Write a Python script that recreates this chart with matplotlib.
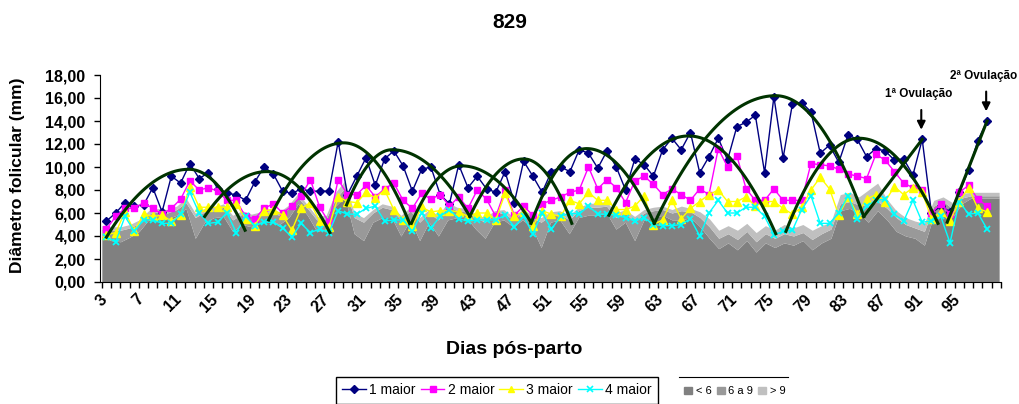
import numpy as np
import matplotlib
matplotlib.use('Agg')
import matplotlib.pyplot as plt
from matplotlib.lines import Line2D
from matplotlib.patches import Patch

plt.rcParams['font.family'] = ['Liberation Sans', 'DejaVu Sans']

# categories: days post-partum (last one has area data only)
days = list(range(3, 100))
tick_days = list(range(3, 96, 4))

# follicle diameters (mm), one value per day from day 3 to day 98
maior1 = [5.3, 6.0, 6.9, 6.6, 6.7, 8.2, 6.1, 9.2, 8.6, 10.3,
          9.0, 9.5, 8.1, 7.7, 7.6, 7.1, 8.7, 10.0, 9.4, 7.9,
          7.7, 8.1, 7.9, 7.9, 7.9, 12.2, 7.6, 9.2, 10.8, 8.4,
          10.7, 11.4, 10.1, 7.9, 9.8, 10.0, 7.6, 6.8, 10.2, 8.2,
          9.2, 8.1, 7.8, 9.6, 6.9, 10.5, 9.2, 7.8, 9.6, 10.0,
          9.6, 11.5, 11.2, 9.9, 11.4, 10.0, 8.0, 10.7, 10.2, 9.2,
          11.5, 12.5, 11.5, 13.0, 9.5, 10.9, 12.5, 10.6, 13.5, 13.9,
          14.5, 9.5, 16.1, 10.8, 15.5, 15.6, 14.8, 11.2, 11.9, 10.4,
          12.8, 12.4, 10.9, 11.6, 11.4, 10.6, 10.7, 9.3, 12.4, 6.0,
          6.6, 6.1, 7.8, 9.7, 12.3, 14.0]
maior2 = [4.6, 5.7, 6.4, 6.4, 6.9, 6.4, 5.9, 6.4, 7.2, 8.8,
          8.0, 8.2, 7.9, 7.1, 7.1, 5.7, 5.5, 6.4, 6.8, 6.0,
          6.6, 7.5, 8.9, 6.5, 5.2, 8.9, 7.6, 7.6, 8.4, 7.4,
          8.1, 8.6, 7.1, 6.4, 7.7, 7.2, 7.6, 6.6, 7.4, 6.4,
          8.0, 7.2, 5.7, 8.0, 5.8, 6.6, 5.8, 6.8, 7.1, 7.4,
          7.8, 8.0, 10.0, 8.1, 8.9, 8.2, 6.9, 8.8, 9.2, 8.5,
          7.6, 8.1, 7.6, 7.1, 8.1, 7.6, 11.6, 10.0, 11.0, 8.1,
          7.1, 7.1, 8.1, 7.1, 7.1, 7.1, 10.3, 10.2, 10.1, 9.8,
          9.4, 9.2, 9.0, 11.1, 10.6, 9.6, 8.6, 8.2, 8.0, 6.0,
          6.8, 5.9, 7.8, 8.4, 7.2, 6.6]
maior3 = [4.1, 4.3, 6.1, 4.4, 5.9, 5.7, 5.8, 5.3, 5.8, 8.3,
          6.5, 6.5, 6.5, 6.5, 6.8, 5.5, 4.9, 6.2, 6.3, 5.8,
          4.5, 6.4, 6.9, 5.3, 4.8, 7.4, 7.0, 6.9, 7.8, 7.3,
          8.0, 6.3, 5.4, 4.9, 6.5, 6.1, 6.2, 6.2, 6.1, 5.7,
          6.0, 6.0, 5.4, 7.7, 5.7, 6.1, 4.9, 6.2, 5.9, 5.7,
          7.1, 6.8, 7.8, 7.1, 7.1, 6.3, 6.3, 6.6, 7.5, 5.0,
          5.4, 7.1, 5.5, 6.4, 7.0, 7.6, 8.0, 7.0, 7.0, 7.4,
          6.6, 7.0, 7.0, 6.4, 5.9, 6.5, 8.0, 9.1, 8.1, 5.8,
          7.4, 5.9, 7.2, 7.6, 7.0, 8.3, 7.6, 8.2, 7.8, 5.5,
          6.1, 5.3, 7.0, 8.2, 6.4, 6.1]
maior4 = [3.9, 3.5, 5.7, 4.4, 5.4, 5.4, 5.1, 5.1, 5.9, 7.8,
          6.0, 5.1, 5.2, 6.0, 4.3, 5.7, 4.9, 5.2, 5.2, 4.7,
          3.9, 5.1, 4.3, 4.6, 4.3, 6.2, 5.9, 5.9, 6.4, 6.6,
          5.3, 5.4, 5.4, 4.4, 6.0, 4.7, 5.7, 6.3, 5.5, 5.3,
          5.4, 5.4, 5.4, 5.8, 4.8, 5.7, 4.2, 6.0, 4.6, 5.7,
          6.0, 5.9, 6.6, 5.9, 5.9, 5.8, 5.6, 5.3, 5.6, 5.0,
          4.9, 4.9, 5.0, 5.5, 4.0, 6.0, 7.1, 6.0, 6.0, 6.5,
          6.5, 5.7, 4.1, 4.4, 4.5, 6.3, 7.5, 5.1, 5.1, 6.0,
          7.5, 5.5, 6.6, 7.1, 7.2, 5.9, 5.3, 7.1, 5.2, 5.3,
          5.7, 3.4, 7.0, 5.9, 6.0, 4.6]

# background areas (stacked): < 6, 6 a 9, > 9
area_lt6 = [4.0, 3.6, 3.5, 3.9, 4.4, 5.4, 5.5, 5.5, 5.8, 6.4,
            3.8, 5.2, 5.6, 5.7, 4.4, 5.0, 4.8, 5.2, 5.4, 5.0,
            5.6, 6.8, 5.8, 4.4, 4.6, 6.6, 7.4, 4.2, 3.6, 5.2,
            5.6, 5.6, 4.0, 5.4, 3.6, 5.2, 4.0, 5.4, 5.6, 5.6,
            4.6, 3.8, 5.2, 5.4, 4.8, 5.4, 4.8, 3.0, 5.2, 5.4,
            4.2, 5.6, 5.8, 5.8, 6.0, 4.6, 5.2, 3.6, 5.4, 5.6,
            5.8, 5.4, 5.4, 5.6, 4.8, 3.8, 2.9, 3.4, 2.8, 3.6,
            2.6, 3.4, 3.0, 3.4, 3.2, 3.6, 2.8, 3.4, 3.8, 6.2,
            6.4, 6.0, 5.2, 6.2, 5.4, 4.4, 4.0, 3.8, 3.2, 5.8,
            6.4, 5.6, 6.8, 7.3, 7.3, 7.3, 7.3]
area_6a9 = [0.6, 0.9, 1.0, 0.8, 0.7, 0.5, 0.6, 0.5, 0.5, 0.5,
            1.8, 0.9, 0.6, 0.8, 1.0, 0.9, 0.8, 0.6, 0.7, 0.8,
            0.8, 0.5, 0.6, 1.0, 0.9, 0.6, 0.8, 1.4, 1.6, 0.8,
            0.9, 0.7, 1.4, 0.8, 1.6, 0.8, 1.4, 1.2, 0.6, 0.5,
            1.0, 1.4, 0.7, 0.6, 0.6, 0.6, 0.8, 2.2, 0.6, 0.5,
            1.2, 0.6, 0.7, 0.7, 0.6, 1.0, 0.8, 1.6, 0.6, 0.6,
            0.5, 0.6, 0.8, 0.5, 0.8, 1.0, 0.9, 0.8, 0.9, 0.8,
            0.9, 0.8, 0.8, 0.8, 0.8, 0.7, 0.9, 0.8, 0.8, 0.6,
            0.6, 0.7, 1.4, 0.8, 1.0, 1.2, 1.0, 0.9, 1.2, 0.8,
            0.6, 0.8, 0.5, 0.2, 0.2, 0.2, 0.2]
area_gt9 = [0.3, 0.3, 0.3, 0.3, 0.3, 0.3, 0.3, 0.3, 0.3, 0.4,
            0.4, 0.3, 0.3, 0.3, 0.4, 0.3, 0.3, 0.3, 0.3, 0.3,
            0.3, 0.4, 0.3, 0.3, 0.3, 0.6, 0.6, 0.4, 0.4, 0.3,
            0.3, 0.3, 0.4, 0.3, 0.4, 0.3, 0.4, 0.3, 0.3, 0.3,
            0.3, 0.4, 0.3, 0.3, 0.3, 0.3, 0.3, 0.4, 0.3, 0.3,
            0.4, 0.3, 0.3, 0.4, 0.4, 0.4, 0.3, 0.5, 0.3, 0.3,
            0.3, 0.3, 0.4, 0.3, 0.5, 0.7, 0.7, 0.7, 0.8, 0.7,
            0.8, 0.7, 0.7, 0.8, 0.7, 0.7, 0.8, 0.7, 0.6, 0.8,
            0.8, 0.7, 1.4, 1.6, 0.8, 0.6, 0.6, 0.6, 0.7, 0.5,
            0.4, 0.5, 0.4, 0.3, 0.3, 0.3, 0.3]

# follicular wave curves: start / peak / end (category index) and values
wave_x0 = [0.0, 10.6, 17.5, 25.9, 32.9, 39.2, 45.8, 54.2, 59.1, 73.3]
wave_xp = [8.9, 17.3, 25.6, 30.8, 38.3, 45.0, 51.8, 62.8, 72.2, 81.2]
wave_x1 = [14.95, 24.1, 32.7, 39.2, 45.8, 50.2, 59.1, 72.2, 81.7, 89.7]
wave_y0 = [3.9, 5.7, 5.4, 6.7, 5.1, 5.7, 5.1, 5.8, 5.1, 4.4]
wave_yp = [9.8, 9.6, 12.1, 11.5, 10.1, 10.7, 11.6, 12.7, 16.2, 12.5]
wave_y1 = [4.5, 4.3, 5.1, 5.7, 5.2, 5.1, 5.1, 4.2, 5.7, 5.1]
# rising segments to the ovulations
ovu_x0 = [81.7, 90.7]
ovu_y0 = [5.7, 5.2]
ovu_idx = [88, 95]
ovu_text = ['1ª Ovulação', '2ª Ovulação']

fig = plt.figure(figsize=(10.19, 4.04), dpi=100)
ax = fig.add_axes([99.5 / 1019, 122 / 404, 901.5 / 1019, 207 / 404])

n = len(days)
xa = np.linspace(-0.5, n - 0.7, n)
lo = np.array(area_lt6)
mid = lo + np.array(area_6a9)
hi = mid + np.array(area_gt9)
ax.fill_between(xa, 0, lo, color='#808080', lw=0, zorder=1)
ax.fill_between(xa, lo, mid, color='#999999', lw=0, zorder=1)
ax.fill_between(xa, mid, hi, color='#C0C0C0', lw=0, zorder=1)

x = np.arange(len(maior1))
ax.plot(x, maior1, color='#000080', lw=1, marker='D', ms=4.5, zorder=3)
ax.plot(x, maior2, color='#FF00FF', lw=1, marker='s', ms=5, zorder=3)
ax.plot(x, maior3, color='#FFFF00', lw=1, marker='^', ms=6, zorder=3)
ax.plot(x, maior4, color='#00FFFF', lw=1, marker='x', ms=5, mew=1.3, zorder=3)

green = '#003300'
for x0, xp, x1, y0, yp, y1 in zip(wave_x0, wave_xp, wave_x1, wave_y0, wave_yp, wave_y1):
    xl = np.linspace(x0, xp, 40)
    yl = yp - (yp - y0) * ((xp - xl) / (xp - x0)) ** 2
    xr = np.linspace(xp, x1, 40)
    yr = yp - (yp - y1) * ((xr - xp) / (x1 - xp)) ** 2
    ax.plot(np.r_[xl, xr], np.r_[yl, yr], color=green, lw=2.2, zorder=4)
for x0, y0, i in zip(ovu_x0, ovu_y0, ovu_idx):
    ax.plot([x0, i], [y0, maior1[i]], color=green, lw=2.2, zorder=4)

# ovulation arrows and labels
for i, txt in zip(ovu_idx, ovu_text):
    ax.annotate('', xy=(i - 0.1, maior1[i] + 0.6), xytext=(i - 0.1, maior1[i] + 2.8),
                arrowprops=dict(arrowstyle='-|>', color='black', lw=1.5, mutation_scale=12),
                annotation_clip=False, zorder=5)
    ax.text(i - 0.4, maior1[i] + 3.4, txt, ha='center', va='bottom', fontsize=8.5,
            weight='bold', clip_on=False)

ax.set_xlim(-0.5, n - 0.5)
ax.set_ylim(0, 18)
ax.set_xticks(np.arange(-0.5, n, 1), minor=True)
# rotated labels end a little left of their category centre, as in Excel
ax.set_xticks([days.index(d) - 0.75 for d in tick_days])
ax.set_xticklabels([str(d) for d in tick_days], rotation=45, ha='right',
                   rotation_mode='anchor', fontsize=11.5, weight='bold')
ax.tick_params(axis='x', which='major', length=0, pad=7)
ax.tick_params(axis='x', which='minor', length=4, direction='out', width=1)
yt = np.arange(0, 19, 2)
ax.set_yticks(yt)
ax.set_yticklabels([f'{v:.2f}'.replace('.', ',') for v in yt], fontsize=11.5, weight='bold')
ax.tick_params(axis='y', length=4, direction='out', width=1, pad=6)
for s in ['top', 'right']:
    ax.spines[s].set_visible(False)

fig.text(0.5, 1 - 22 / 404, '829', ha='center', va='center', fontsize=15, weight='bold')
fig.text(18 / 1019, 1 - 175 / 404, 'Diâmetro folicular (mm)', rotation=90,
         ha='center', va='center', fontsize=12.5, weight='bold')
fig.text(514 / 1019, 1 - 349 / 404, 'Dias pós-parto', ha='center', va='center',
         fontsize=14, weight='bold')

h1 = [Line2D([], [], color='#000080', marker='D', ms=4, lw=1),
      Line2D([], [], color='#FF00FF', marker='s', ms=4.5, lw=1),
      Line2D([], [], color='#FFFF00', marker='^', ms=5, lw=1),
      Line2D([], [], color='#00FFFF', marker='x', ms=5, mew=1.2, lw=1)]
leg1 = fig.legend(h1, ['1 maior', '2 maior', '3 maior', '4 maior'], loc='upper left',
                  bbox_to_anchor=(336 / 1019, 1 - 377 / 404), borderaxespad=0, ncol=4,
                  fontsize=10, frameon=True, fancybox=False, edgecolor='black',
                  framealpha=1, handlelength=1.7, handletextpad=0.25,
                  columnspacing=0.35, borderpad=0.45)
leg1.get_frame().set_linewidth(1)

h2 = [Patch(color='#808080'), Patch(color='#999999'), Patch(color='#C0C0C0')]
fig.legend(h2, ['< 6', '6 a 9', '> 9'], loc='upper left',
           bbox_to_anchor=(680 / 1019, 1 - 382 / 404), borderaxespad=0, ncol=3,
           fontsize=8, frameon=False, handlelength=0.7, handleheight=0.7,
           handletextpad=0.3, columnspacing=0.5)
fig.add_artist(Line2D([679 / 1019, 788 / 1019], [1 - 377 / 404] * 2, color='black',
                      lw=0.8, transform=fig.transFigure))

fig.savefig('out.png', dpi=100)
